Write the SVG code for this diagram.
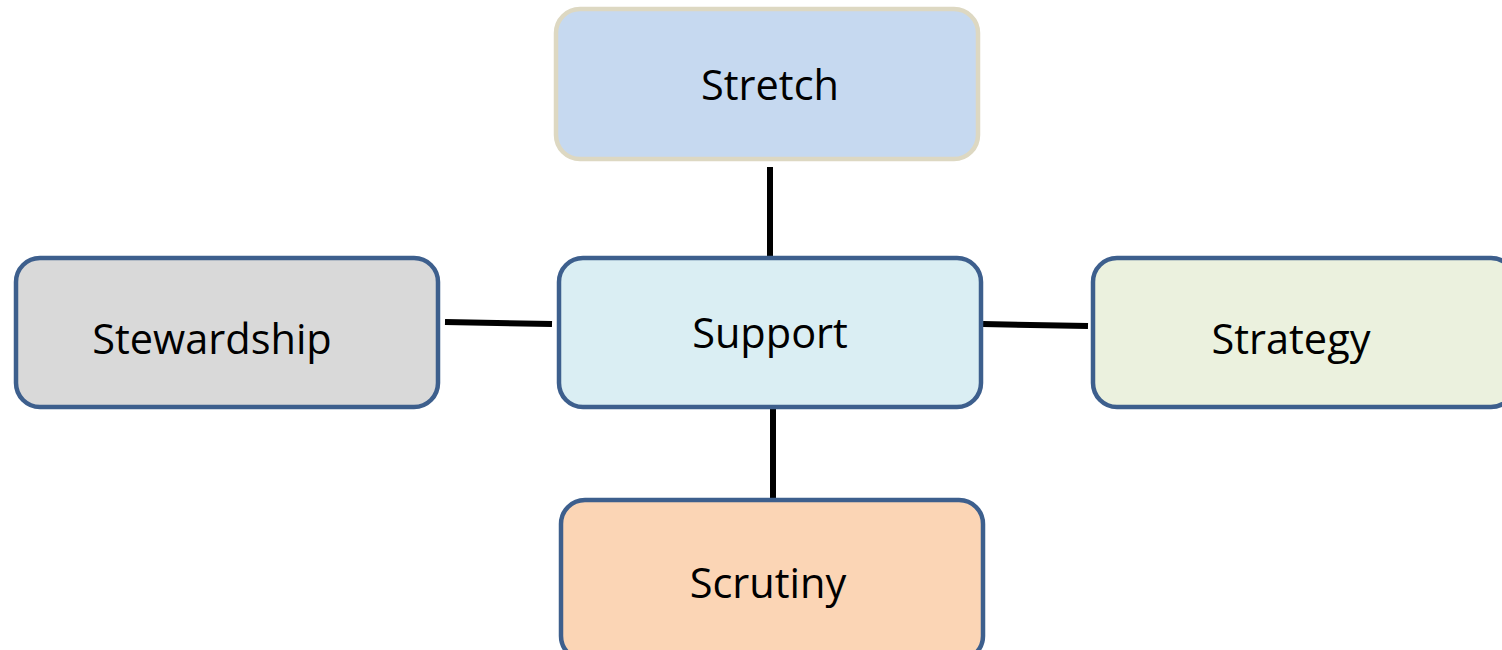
<svg xmlns="http://www.w3.org/2000/svg" width="1502" height="650" viewBox="0 0 1502 650">
<style>
.box{stroke:#3d5f8d;stroke-width:4.5}
.lbl{font-family:"Open Sans","Noto Sans","Liberation Sans",sans-serif;font-size:41.5px;fill:#000;text-anchor:middle}
.conn{stroke:#000;stroke-width:6;fill:none}
</style>
<rect width="1502" height="650" fill="#fff"/>
<g id="connectors">
<line class="conn" x1="770" y1="167" x2="770" y2="258"/>
<line class="conn" x1="445" y1="322" x2="552" y2="324"/>
<line class="conn" x1="983" y1="324" x2="1088" y2="326"/>
<line class="conn" x1="773" y1="403" x2="773" y2="508"/>
</g>
<g id="stretch">
<rect x="556" y="9" width="422" height="150" rx="24" fill="#c6d9f0" stroke="#ddd8c2" stroke-width="4.5"/>
<text class="lbl" x="770" y="100">Stretch</text>
</g>
<g id="support">
<rect class="box" x="559" y="258" width="422" height="149" rx="24" fill="#daeef3"/>
<text class="lbl" x="770" y="348">Support</text>
</g>
<g id="stewardship">
<rect class="box" x="16" y="258" width="422" height="149" rx="24" fill="#d9d9d9"/>
<text class="lbl" x="212" y="354">Stewardship</text>
</g>
<g id="strategy">
<rect class="box" x="1093" y="258" width="422" height="149" rx="24" fill="#ebf1de"/>
<text class="lbl" x="1291" y="354">Strategy</text>
</g>
<g id="scrutiny">
<rect class="box" x="561" y="500" width="422" height="160" rx="24" fill="#fbd5b5"/>
<text class="lbl" x="768" y="598">Scrutiny</text>
</g>
</svg>
